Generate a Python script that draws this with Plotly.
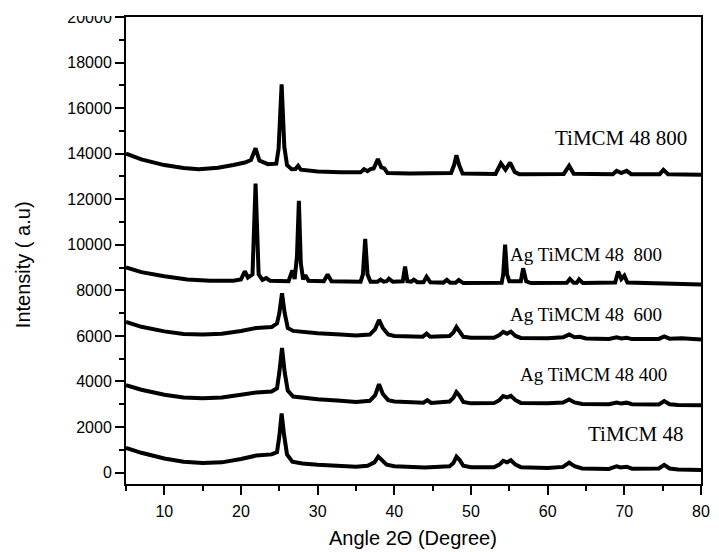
import plotly.graph_objects as go

# ---- data (2-theta in degrees, intensity in a.u.) ----
x_timcm48 = [5, 7, 10, 12.5, 15, 17.5, 20, 22, 24, 24.7, 25.0, 25.3, 25.6, 26.0, 26.7, 28, 30, 33, 35,
             36.5, 37.4, 37.9, 38.4, 39, 40, 44, 47.2, 47.7, 48.1, 48.5, 49, 50, 53, 53.7, 54.2, 54.7,
             55.2, 55.8, 56.5, 60, 62, 62.8, 63.5, 64.5, 68, 69, 69.5, 70.3, 71, 74.5, 75.2, 75.9, 77, 80]
y_timcm48 = [1080, 870, 620, 480, 420, 450, 600, 750, 800, 900, 1600, 2600, 1700, 800, 480, 400, 340, 280, 260,
             300, 450, 700, 560, 350, 280, 220, 280, 420, 700, 560, 300, 240, 230, 350, 520, 450,
             540, 350, 240, 200, 250, 440, 280, 180, 160, 280, 230, 260, 170, 180, 340, 180, 140, 120]

x_ag400 = [5, 7, 10, 12.5, 15, 17.5, 20, 22, 24, 24.7, 25.0, 25.35, 25.7, 26.1, 26.8, 28, 30, 33, 35,
           36.8, 37.5, 38.0, 38.5, 39.2, 40, 43.8, 44.3, 44.8, 47.2, 47.7, 48.1, 48.5, 49, 50, 53, 53.7,
           54.2, 54.7, 55.2, 55.8, 56.5, 60, 62, 62.8, 63.5, 64.5, 68, 69, 69.6, 70.3, 71, 74.5, 75.2,
           75.9, 77, 80]
y_ag400 = [3840, 3640, 3420, 3300, 3260, 3300, 3420, 3520, 3560, 3700, 4400, 5470, 4400, 3600, 3340, 3280, 3220,
           3150, 3100, 3150, 3400, 3880, 3450, 3180, 3120, 3070, 3180, 3060, 3120, 3280, 3540, 3380, 3100,
           3040, 3050, 3180, 3360, 3300, 3370, 3180, 3060, 3040, 3080, 3210, 3080, 3010, 3000, 3080, 3030,
           3070, 3000, 2990, 3140, 3000, 2970, 2960]

x_ag600 = [5, 7, 10, 12.5, 15, 17.5, 20, 22, 24, 24.7, 25.0, 25.35, 25.7, 26.1, 26.8, 28, 30, 33, 35,
           36.8, 37.5, 38.0, 38.5, 39.2, 40, 43.7, 44.2, 44.7, 47.2, 47.7, 48.1, 48.5, 49, 50, 53, 53.7,
           54.2, 54.7, 55.2, 55.8, 56.5, 60, 62, 62.8, 63.5, 64.2, 65, 68, 69, 69.6, 70.3, 71, 74.5,
           75.2, 75.9, 77.5, 80]
y_ag600 = [6610, 6400, 6200, 6080, 6060, 6100, 6220, 6350, 6390, 6550, 7000, 7870, 7000, 6350, 6220, 6180, 6120,
           6060, 6020, 6060, 6300, 6700, 6350, 6060, 6000, 5960, 6100, 5960, 6000, 6150, 6390, 6200, 5960,
           5920, 5920, 6040, 6180, 6100, 6190, 6000, 5910, 5900, 5940, 6060, 5940, 5960, 5890, 5870, 5940,
           5890, 5920, 5860, 5870, 5980, 5880, 5900, 5840]

x_ag800 = [5, 7, 10, 13, 16, 19, 20.0, 20.5, 20.9, 21.5, 21.9, 22.3, 22.8, 23.3, 23.8, 26.2, 26.7, 27.0,
           27.3, 27.55, 27.8, 28.1, 28.4, 28.8, 30.8, 31.3, 31.8, 35.6, 35.9, 36.2, 36.5, 36.9, 37.8,
           38.2, 38.6, 39.0, 39.3, 39.8, 41.1, 41.4, 41.7, 42.2, 42.55, 43.0, 43.8, 44.2, 44.7, 46.4,
           46.85, 47.3, 48.0, 48.4, 49.0, 54.0, 54.2, 54.45, 54.7, 55.0, 56.5, 56.8, 57.2, 57.8, 62.5,
           62.9, 63.4, 63.8, 64.1, 64.6, 68.8, 69.2, 69.6, 70.0, 70.4, 75.0, 80]
y_ag800 = [9010, 8800, 8620, 8480, 8420, 8420, 8480, 8840, 8560, 8700, 12690, 8700, 8460, 8540, 8420, 8400, 8880,
           8500, 9500, 11930, 9200, 8480, 8670, 8420, 8400, 8700, 8400, 8380, 8700, 10260, 8700, 8380, 8380,
           8470, 8380, 8400, 8510, 8380, 8400, 9040, 8400, 8380, 8470, 8360, 8360, 8600, 8350, 8340,
           8460, 8330, 8330, 8450, 8320, 8330, 8700, 10010, 8700, 8400, 8400, 8970, 8400, 8320, 8330,
           8500, 8330, 8330, 8480, 8320, 8340, 8830, 8500, 8650, 8340, 8300, 8260]

x_timcm800 = [5, 7, 10, 12.5, 14.5, 17, 19, 20.5, 21.3, 21.9, 22.4, 23.5, 24.6, 24.9, 25.3, 25.65, 26.0,
              26.6, 27.1, 27.45, 27.8, 30, 33, 35.6, 36.05, 36.5, 36.9, 37.3, 37.85, 38.3, 38.7, 39.1,
              42, 47.4, 47.8, 48.1, 48.45, 48.9, 53.2, 53.9, 54.5, 55.1, 55.7, 56.3, 62.1, 62.8, 63.4,
              68.5, 69.0, 69.6, 70.3, 70.9, 74.6, 75.1, 75.7, 80]
y_timcm800 = [14000, 13750, 13500, 13370, 13320, 13380, 13500, 13610, 13720, 14240, 13700, 13540, 13560, 14200,
              17040, 14300, 13500, 13320, 13330, 13470, 13300, 13220, 13180, 13180, 13320, 13230, 13320,
              13350, 13760, 13400, 13350, 13150, 13130, 13150, 13500, 13930, 13500, 13130, 13110, 13580,
              13300, 13610, 13200, 13100, 13110, 13470, 13120, 13100, 13250, 13150, 13250, 13100, 13100,
              13290, 13100, 13070]

series_x = [x_timcm48, x_ag400, x_ag600, x_ag800, x_timcm800]
series_y = [y_timcm48, y_ag400, y_ag600, y_ag800, y_timcm800]
series_names = ["TiMCM 48", "Ag TiMCM 48 400", "Ag TiMCM 48  600", "Ag TiMCM 48  800", "TiMCM 48 800"]

# label text and where it sits (data coordinates)
label_texts = ["TiMCM 48 800", "Ag TiMCM 48\u00a0\u00a0800", "Ag TiMCM 48\u00a0\u00a0600",
               "Ag TiMCM 48 400", "TiMCM 48"]
label_x = [60.67, 54.89, 54.89, 56.14, 64.97]
label_y = [14700, 9560, 6950, 4310, 1685]
label_size = [21, 19, 19, 19, 21]

fig = go.Figure()
for xs, ys, nm in zip(series_x, series_y, series_names):
    fig.add_trace(go.Scatter(x=xs, y=ys, mode="lines", name=nm,
                             line=dict(color="#000000", width=4), showlegend=False))

for t, lx, ly, fs in zip(label_texts, label_x, label_y, label_size):
    fig.add_annotation(x=lx, y=ly, xref="x", yref="y", text=t, showarrow=False,
                       xanchor="left", yanchor="middle",
                       font=dict(family="Liberation Serif", size=fs, color="#000000"))

# axis titles
fig.add_annotation(x=(21.7 - 126) / 583.6, y=(484 - 264) / 469, xref="paper", yref="paper",
                   text="Intensity ( a.u)", textangle=-90, showarrow=False,
                   xanchor="center", yanchor="middle",
                   font=dict(family="Liberation Sans", size=20, color="#000000"))
fig.add_annotation(x=(417.3 - 126) / 583.6, y=(484 - 538) / 469, xref="paper", yref="paper",
                   text="Angle 2\u0398 (Degree)", showarrow=False,
                   xanchor="center", yanchor="middle",
                   font=dict(family="Liberation Sans", size=20, color="#000000"))

# the top tick label is cropped in the reference
fig.add_shape(type="rect", xref="paper", yref="paper",
              x0=-0.22, x1=-0.012, y0=(484 - 14) / 469, y1=1.04,
              fillcolor="white", line=dict(width=0), layer="above")

fig.update_xaxes(range=[5, 80], dtick=10, tick0=0, showgrid=False, zeroline=False,
                 showline=True, linecolor="#000000", linewidth=2, mirror=True,
                 ticks="outside", ticklen=9, tickwidth=2, tickcolor="#000000",
                 ticklabelstandoff=3,
                 tickfont=dict(family="Liberation Sans", size=16, color="#000000"),
                 minor=dict(dtick=5, tick0=0, ticks="outside", ticklen=5, tickwidth=2,
                            tickcolor="#000000", showgrid=False))
fig.update_yaxes(range=[-500, 20000], dtick=2000, tick0=0, tickformat="d", showgrid=False,
                 zeroline=False, showline=True, linecolor="#000000", linewidth=2, mirror=True,
                 ticks="outside", ticklen=9, tickwidth=2, tickcolor="#000000",
                 tickfont=dict(family="Liberation Sans", size=16, color="#000000"),
                 minor=dict(dtick=1000, tick0=0, ticks="outside", ticklen=5, tickwidth=2,
                            tickcolor="#000000", showgrid=False))

fig.update_layout(width=719, height=552, margin=dict(l=126, r=9, t=15, b=68),
                  plot_bgcolor="white", paper_bgcolor="white", showlegend=False)

fig.write_html("out.html")
